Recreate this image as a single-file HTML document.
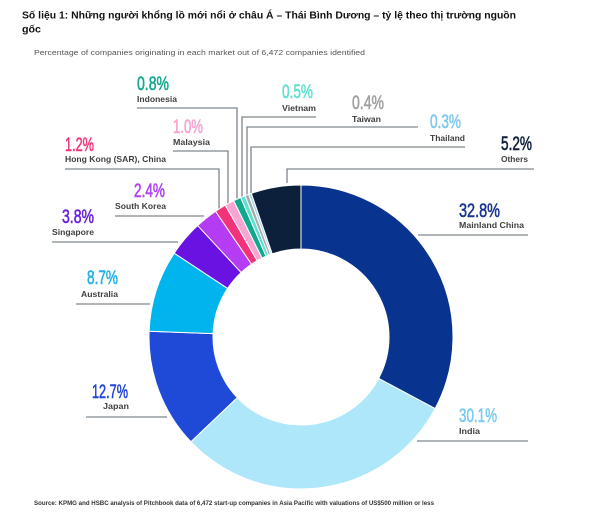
<!DOCTYPE html>
<html>
<head>
<meta charset="utf-8">
<style>
html,body{margin:0;padding:0;background:#fff;}
svg{display:block;}
</style>
</head>
<body>
<svg width="600" height="518" viewBox="0 0 600 518" xmlns="http://www.w3.org/2000/svg">
<rect width="600" height="518" fill="#fff"/>
<!-- Title -->
<g font-family="Liberation Sans, Noto Sans CJK SC, sans-serif" font-weight="bold" fill="#111">
<text x="22" y="18.5" font-size="10.5" textLength="494" lengthAdjust="spacingAndGlyphs">Số liệu 1: Những người khổng lồ mới nổi ở châu Á – Thái Bình Dương – tỷ lệ theo thị trường nguồn</text>
<text x="22" y="32.5" font-size="10.5" textLength="19" lengthAdjust="spacingAndGlyphs">gốc</text>
</g>
<text x="34" y="55" font-family="Liberation Sans, sans-serif" font-size="7.5" fill="#555" textLength="331" lengthAdjust="spacingAndGlyphs">Percentage of companies originating in each market out of 6,472 companies identified</text>

<!-- Leader lines -->
<g fill="none" stroke="#7f868e" stroke-width="1.3">
<path d="M137,108 H237 V202"/>
<path d="M316,117 H242 V200"/>
<path d="M418,127 H247 V198"/>
<path d="M465,147 H251 V197"/>
<path d="M534,169 H287 V183"/>
<path d="M418,235 H528"/>
<path d="M173,151 H228 V207"/>
<path d="M65,169 H219 V212"/>
<path d="M115,216 H204"/>
<path d="M52,242 H178"/>
<path d="M76,304 H150"/>
<path d="M86,417 H167"/>
<path d="M417,441 H528"/>
</g>

<!-- Donut -->
<g stroke="#fff" stroke-width="1" stroke-linejoin="round">
<path fill="#08338f" d="M301,185 A152,152 0 0 1 435.11,408.55 L378.64,378.42 A88,88 0 0 0 301,249 Z"/>
<path fill="#aee7fa" d="M435.11,408.55 A152,152 0 0 1 190.88,441.77 L237.24,397.66 A88,88 0 0 0 378.64,378.42 Z"/>
<path fill="#1f4ad8" d="M190.88,441.77 A152,152 0 0 1 149.11,331.27 L213.06,333.68 A88,88 0 0 0 237.24,397.66 Z"/>
<path fill="#00b5ee" d="M149.11,331.27 A152,152 0 0 1 174.23,253.16 L227.61,288.46 A88,88 0 0 0 213.06,333.68 Z"/>
<path fill="#6a12e2" d="M174.23,253.16 A152,152 0 0 1 197.64,225.55 L241.16,272.48 A88,88 0 0 0 227.61,288.46 Z"/>
<path fill="#b43cf2" d="M197.64,225.55 A152,152 0 0 1 215.56,211.28 L251.54,264.22 A88,88 0 0 0 241.16,272.48 Z"/>
<path fill="#f2337a" d="M215.56,211.28 A152,152 0 0 1 225.27,205.20 L257.16,260.70 A88,88 0 0 0 251.54,264.22 Z"/>
<path fill="#f7a6d4" d="M225.27,205.20 A152,152 0 0 1 233.69,200.72 L262.03,258.10 A88,88 0 0 0 257.16,260.70 Z"/>
<path fill="#12a88e" d="M233.69,200.72 A152,152 0 0 1 240.64,197.49 L266.06,256.23 A88,88 0 0 0 262.03,258.10 Z"/>
<path fill="#5fe0d2" d="M240.64,197.49 A152,152 0 0 1 245.05,195.67 L268.61,255.18 A88,88 0 0 0 266.06,256.23 Z"/>
<path fill="#a9a9a9" d="M245.05,195.67 A152,152 0 0 1 248.61,194.32 L270.67,254.39 A88,88 0 0 0 268.61,255.18 Z"/>
<path fill="#a7d9ef" d="M248.61,194.32 A152,152 0 0 1 251.31,193.34 L272.23,253.83 A88,88 0 0 0 270.67,254.39 Z"/>
<path fill="#0c1f3b" d="M251.31,193.34 A152,152 0 0 1 301,185 L301,249 A88,88 0 0 0 272.23,253.83 Z"/>
</g>

<!-- Percent labels -->
<g font-family="Liberation Sans, sans-serif" font-size="19.5" stroke-width="0.6">
<text x="137" y="90" fill="#17a88f" stroke="#17a88f" textLength="32" lengthAdjust="spacingAndGlyphs">0.8%</text>
<text x="282" y="98" fill="#5fe0d0" stroke="#5fe0d0" textLength="31" lengthAdjust="spacingAndGlyphs">0.5%</text>
<text x="352" y="109" fill="#a0a0a0" stroke="#a0a0a0" textLength="32" lengthAdjust="spacingAndGlyphs">0.4%</text>
<text x="430" y="128" fill="#7cc8ee" stroke="#7cc8ee" textLength="31" lengthAdjust="spacingAndGlyphs">0.3%</text>
<text x="501" y="150" fill="#0d1e3a" stroke="#0d1e3a" textLength="31" lengthAdjust="spacingAndGlyphs">5.2%</text>
<text x="459" y="217" fill="#1b3590" stroke="#1b3590" textLength="41" lengthAdjust="spacingAndGlyphs">32.8%</text>
<text x="173" y="133" fill="#f5a3d2" stroke="#f5a3d2" textLength="30" lengthAdjust="spacingAndGlyphs">1.0%</text>
<text x="65" y="151" fill="#f0357a" stroke="#f0357a" textLength="29" lengthAdjust="spacingAndGlyphs">1.2%</text>
<text x="134" y="197" fill="#b040f0" stroke="#b040f0" textLength="31" lengthAdjust="spacingAndGlyphs">2.4%</text>
<text x="62" y="223" fill="#6a20e0" stroke="#6a20e0" textLength="32" lengthAdjust="spacingAndGlyphs">3.8%</text>
<text x="87" y="284" fill="#20b0ec" stroke="#20b0ec" textLength="31" lengthAdjust="spacingAndGlyphs">8.7%</text>
<text x="92" y="398" fill="#1f45d8" stroke="#1f45d8" textLength="36" lengthAdjust="spacingAndGlyphs">12.7%</text>
<text x="459" y="422" fill="#7ccaf0" stroke="#7ccaf0" textLength="38" lengthAdjust="spacingAndGlyphs">30.1%</text>
</g>

<!-- Name labels -->
<g font-family="Liberation Sans, sans-serif" font-size="8.5" font-weight="bold" fill="#404040">
<text x="137" y="102" textLength="40" lengthAdjust="spacingAndGlyphs">Indonesia</text>
<text x="282" y="111" textLength="34" lengthAdjust="spacingAndGlyphs">Vietnam</text>
<text x="352" y="122" textLength="29" lengthAdjust="spacingAndGlyphs">Taiwan</text>
<text x="430" y="141" textLength="35" lengthAdjust="spacingAndGlyphs">Thailand</text>
<text x="501" y="162" textLength="27" lengthAdjust="spacingAndGlyphs">Others</text>
<text x="459" y="228" textLength="65" lengthAdjust="spacingAndGlyphs">Mainland China</text>
<text x="173" y="145" textLength="37" lengthAdjust="spacingAndGlyphs">Malaysia</text>
<text x="65" y="162" textLength="101" lengthAdjust="spacingAndGlyphs">Hong Kong (SAR), China</text>
<text x="115" y="209" textLength="51" lengthAdjust="spacingAndGlyphs">South Korea</text>
<text x="52" y="235" textLength="42" lengthAdjust="spacingAndGlyphs">Singapore</text>
<text x="81" y="297" textLength="37" lengthAdjust="spacingAndGlyphs">Australia</text>
<text x="103" y="409" textLength="26" lengthAdjust="spacingAndGlyphs">Japan</text>
<text x="459" y="434" textLength="21" lengthAdjust="spacingAndGlyphs">India</text>
</g>

<!-- Source -->
<text x="34" y="505" font-family="Liberation Sans, sans-serif" font-size="6.2" font-weight="bold" fill="#333" textLength="400" lengthAdjust="spacingAndGlyphs">Source: KPMG and HSBC analysis of Pitchbook data of 6,472 start-up companies in Asia Pacific with valuations of US$500 million or less</text>
</svg>
</body>
</html>
